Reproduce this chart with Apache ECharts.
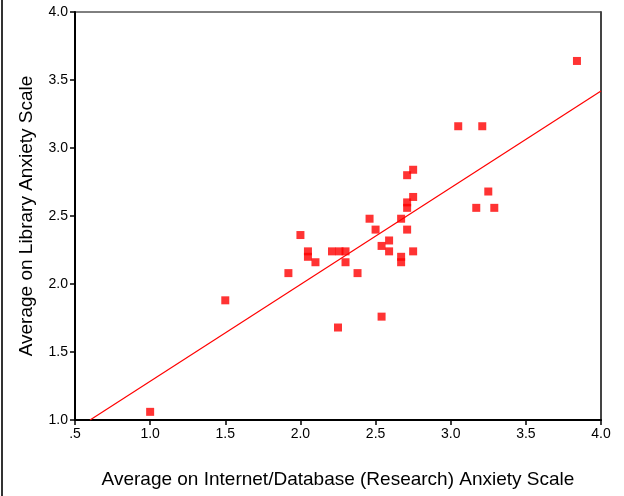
<!DOCTYPE html>
<html>
<head>
<meta charset="utf-8">
<script src="https://cdn.jsdelivr.net/npm/echarts@6/dist/echarts.min.js"></script>
<style>
  html, body { margin: 0; padding: 0; background: #fff; }
  #chart { width: 624px; height: 496px; }
</style>
</head>
<body>
<div id="chart"></div>
<script>
// Internet/Database anxiety (x) vs Library anxiety (y), one pair per respondent
const xValues = [1.0, 1.5, 1.92, 2.0, 2.05, 2.05, 2.1, 2.21, 2.26, 2.3, 2.3, 2.38, 2.25,
  2.46, 2.5, 2.54, 2.59, 2.59, 2.54, 2.67, 2.67, 2.67, 2.71, 2.71, 2.71, 2.71, 2.75, 2.75, 2.75,
  3.05, 3.21, 3.17, 3.25, 3.29, 3.84];
const yValues = [1.06, 1.88, 2.08, 2.36, 2.24, 2.2, 2.16, 2.24, 2.24, 2.24, 2.16, 2.08, 1.68,
  2.48, 2.4, 2.28, 2.32, 2.24, 1.76, 2.2, 2.16, 2.48, 2.4, 2.6, 2.56, 2.8, 2.84, 2.64, 2.24,
  3.16, 3.16, 2.56, 2.68, 2.56, 3.64];
// fitted regression line end points
const fitX = [0.6, 4.0];
const fitY = [1.0, 3.42];

const points = xValues.map((x, i) => [x, yValues[i]]);
const fitLine = fitX.map((x, i) => [x, fitY[i]]);

const labelFont = { color: '#000', fontSize: 14, fontFamily: 'Liberation Sans, Arial, sans-serif' };
const titleFont = { color: '#000', fontSize: 19, fontFamily: 'Liberation Sans, Arial, sans-serif' };

const chart = echarts.init(document.getElementById('chart'));
chart.setOption({
  animation: false,
  backgroundColor: '#fff',
  grid: {
    left: 75, right: 23, top: 12, bottom: 76,
    show: true, borderColor: '#000', borderWidth: 1
  },
  xAxis: {
    type: 'value', min: 0.5, max: 4.0, interval: 0.5,
    splitLine: { show: false },
    axisLine: { lineStyle: { color: '#000', width: 2 } },
    axisTick: { length: 5, lineStyle: { color: '#000', width: 1.5 } },
    axisLabel: Object.assign({
      margin: 7,
      // SPSS style: leading zero dropped
      formatter: v => v === 0.5 ? '.5' : v.toFixed(1)
    }, labelFont),
    name: 'Average on Internet/Database (Research) Anxiety Scale',
    nameLocation: 'middle', nameGap: 50,
    nameTextStyle: titleFont
  },
  yAxis: [
    {
      type: 'value', min: 1.0, max: 4.0, interval: 0.5,
      splitLine: { show: false },
      axisLine: { show: true, lineStyle: { color: '#000', width: 2 } },
      axisTick: { show: true, length: 5, lineStyle: { color: '#000', width: 1.5 } },
      axisLabel: Object.assign({ margin: 7, formatter: v => v.toFixed(1) }, labelFont),
      name: 'Average on Library Anxiety Scale',
      nameLocation: 'middle', nameGap: 39,
      nameTextStyle: titleFont
    },
    {
      // right frame edge, drawn heavier and grey like the original
      type: 'value', position: 'right', min: 1.0, max: 4.0, interval: 0.5,
      splitLine: { show: false },
      axisLine: { show: true, lineStyle: { color: '#444', width: 2 } },
      axisTick: { show: false },
      axisLabel: { show: false }
    }
  ],
  graphic: [
    { type: 'line', shape: { x1: 2, y1: 0, x2: 2, y2: 496 }, style: { stroke: '#333', lineWidth: 2 } }
  ],
  series: [
    {
      type: 'line',
      data: fitLine,
      showSymbol: false,
      clip: true,
      lineStyle: { color: '#ff0000', width: 1.2 },
      z: 2
    },
    {
      type: 'scatter',
      data: points,
      symbol: 'rect',
      symbolSize: 8,
      itemStyle: { color: '#ff0000' },
      z: 3
    }
  ]
});
</script>
</body>
</html>
